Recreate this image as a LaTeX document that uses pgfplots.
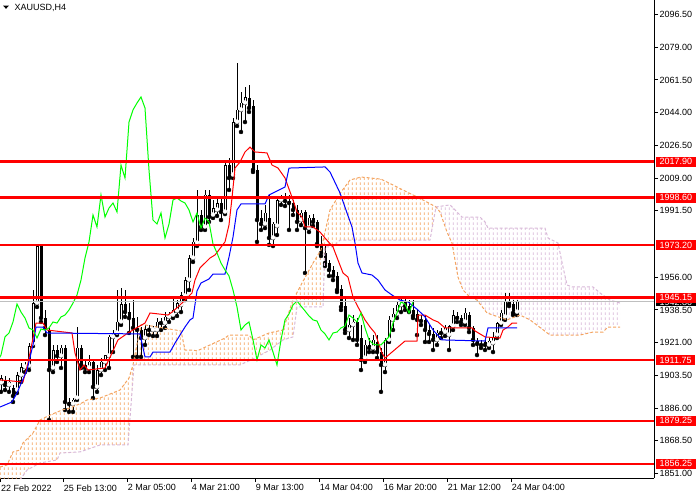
\documentclass[border=0pt]{standalone}
\usepackage{fontspec}
\setmainfont{Liberation Sans}
\usepackage{pgfplots}
\pgfplotsset{compat=1.18}
\usepackage{pgfplotstable}
\usepgfplotslibrary{fillbetween}
\usetikzlibrary{patterns}
\definecolor{sandybrown}{HTML}{F4A460}
\definecolor{mtthistle}{HTML}{D8B8D8}
\definecolor{mtlime}{HTML}{00FF00}
\pgfdeclarepatternformonly{vdash}{\pgfqpoint{0bp}{0bp}}{\pgfqpoint{4bp}{5bp}}{\pgfqpoint{4bp}{5bp}}{%
  \pgfsetlinewidth{1.1bp}%
  \pgfpathmoveto{\pgfqpoint{1.5bp}{0bp}}%
  \pgfpathlineto{\pgfqpoint{1.5bp}{3bp}}%
  \pgfusepath{stroke}}

\pgfplotstableread{
i o h l c
0 1899.5 1903.7 1894.7 1902.1
1 1901.1 1903.2 1895.7 1898.4
2 1898.4 1902.1 1894.7 1900.0
3 1896.8 1898.4 1889.3 1892.5
4 1895.7 1905.3 1894.1 1903.7
5 1903.7 1910.2 1900.0 1908.0
6 1908.0 1910.7 1905.3 1909.1
7 1908.6 1920.8 1906.4 1919.2
8 1920.3 1949.2 1919.2 1942.2
9 1942.2 1973.8 1940.1 1972.7
10 1972.7 1973.8 1932.1 1934.2
11 1934.2 1938.5 1925.1 1928.9
12 1927.8 1928.9 1879.7 1906.4
13 1907.5 1919.8 1905.3 1917.1
14 1917.1 1919.8 1910.7 1913.9
15 1913.9 1919.8 1907.5 1918.2
16 1918.2 1919.8 1885.0 1889.3
17 1889.3 1891.4 1884.0 1888.2
18 1888.2 1891.4 1884.0 1890.4
19 1891.4 1929.4 1890.4 1918.2
20 1918.2 1919.8 1907.5 1909.1
21 1909.1 1911.8 1905.3 1907.5
22 1907.5 1914.4 1905.3 1910.7
23 1910.7 1911.8 1891.4 1897.3
24 1897.3 1909.1 1894.7 1906.4
25 1906.4 1912.8 1903.7 1910.7
26 1910.7 1914.4 1906.4 1914.4
27 1913.9 1925.1 1907.5 1924.1
28 1924.1 1927.8 1916.0 1926.2
29 1926.2 1949.2 1925.1 1932.1
30 1932.1 1950.3 1930.5 1941.7
31 1941.7 1949.2 1934.8 1937.4
32 1937.4 1942.2 1926.2 1934.2
33 1934.2 1943.8 1913.4 1928.9
34 1928.9 1934.8 1913.4 1927.8
35 1927.8 1929.4 1913.4 1923.5
36 1923.5 1930.5 1919.8 1928.3
37 1928.3 1930.5 1925.1 1927.8
38 1927.8 1929.9 1924.6 1928.9
39 1927.8 1934.2 1924.6 1932.1
40 1932.1 1934.2 1927.8 1931.5
41 1931.5 1937.4 1928.9 1934.8
42 1934.8 1937.4 1932.1 1935.8
43 1935.8 1944.9 1934.2 1938.5
44 1938.0 1943.8 1935.3 1942.2
45 1941.2 1948.1 1937.4 1946.5
46 1946.0 1956.1 1943.8 1954.5
47 1954.5 1967.9 1949.2 1966.3
48 1966.3 1977.0 1964.2 1974.9
49 1974.3 2002.7 1972.7 1989.3
50 1989.3 1992.0 1981.3 1982.9
51 1982.9 2002.7 1981.3 2000.0
52 2000.0 2002.7 1985.6 1988.2
53 1989.3 1997.3 1987.7 1993.0
54 1992.0 1998.9 1988.8 1995.7
55 1995.7 1998.4 1986.6 1990.9
56 1990.9 2018.7 1989.8 2016.0
57 2016.0 2019.8 2002.7 2009.1
58 2010.7 2041.2 2009.1 2039.0
59 2039.0 2070.6 2036.9 2045.5
60 2045.5 2055.1 2033.7 2049.2
61 2049.2 2057.8 2039.0 2052.4
62 2051.9 2058.8 2044.4 2046.5
63 2047.6 2050.8 2012.3 2013.4
64 2013.4 2016.0 1974.9 1986.6
65 1987.7 1992.0 1981.3 1984.5
66 1984.5 1994.7 1982.3 1990.4
67 1987.7 2000.0 1973.3 1977.0
68 1977.0 1985.6 1972.7 1984.5
69 1983.4 1998.9 1978.6 1997.3
70 1997.3 2000.0 1994.7 1998.4
71 1997.3 2001.1 1994.1 1996.8
72 1996.8 2000.0 1981.3 1995.7
73 1995.7 1997.3 1989.3 1992.0
74 1992.0 1994.7 1981.3 1985.6
75 1986.6 1992.0 1983.9 1990.4
76 1990.9 1992.0 1958.3 1982.3
77 1982.3 1989.3 1980.2 1987.7
78 1987.7 1989.8 1983.4 1985.6
79 1985.6 1986.6 1972.7 1973.8
80 1973.8 1978.1 1967.4 1969.0
81 1969.0 1973.3 1962.0 1963.6
82 1963.6 1965.2 1956.7 1959.9
83 1959.9 1962.0 1954.5 1956.7
84 1956.7 1958.8 1948.1 1949.2
85 1949.7 1951.9 1938.5 1940.1
86 1940.6 1944.9 1926.2 1927.8
87 1927.8 1934.2 1923.5 1930.5
88 1930.5 1935.8 1922.5 1932.1
89 1932.1 1934.2 1919.8 1922.5
90 1923.5 1930.5 1906.4 1911.8
91 1912.8 1922.5 1910.7 1919.8
92 1919.8 1923.5 1916.0 1918.2
93 1918.2 1925.1 1916.0 1922.5
94 1921.4 1925.1 1912.8 1916.0
95 1916.0 1918.2 1894.7 1909.1
96 1909.1 1923.5 1905.3 1922.5
97 1922.5 1935.3 1921.4 1933.2
98 1933.2 1939.6 1927.8 1936.4
99 1936.4 1942.8 1934.2 1941.2
100 1941.2 1946.0 1937.4 1943.3
101 1943.3 1945.4 1938.5 1940.6
102 1940.6 1943.8 1937.4 1938.0
103 1938.5 1943.8 1934.2 1935.3
104 1936.4 1938.5 1925.1 1933.2
105 1933.2 1935.8 1930.5 1932.6
106 1933.2 1935.3 1921.4 1927.8
107 1927.8 1930.5 1921.4 1925.7
108 1925.7 1928.9 1917.1 1922.5
109 1922.5 1927.8 1919.8 1926.2
110 1926.2 1928.9 1923.5 1926.7
111 1926.7 1930.5 1924.6 1928.9
112 1925.1 1930.5 1917.1 1929.9
113 1929.9 1938.5 1927.8 1935.8
114 1935.3 1937.4 1932.1 1934.2
115 1934.2 1935.8 1930.5 1932.1
116 1932.1 1939.6 1930.5 1936.9
117 1935.8 1937.4 1926.7 1928.9
118 1928.9 1929.9 1919.8 1922.5
119 1922.0 1923.5 1914.4 1920.3
120 1920.3 1922.5 1918.2 1919.8
121 1921.4 1923.5 1917.1 1919.8
122 1919.8 1923.5 1918.2 1922.0
123 1920.8 1926.7 1916.0 1924.1
124 1925.1 1932.1 1923.5 1931.5
125 1931.5 1938.5 1930.5 1936.9
126 1934.8 1947.6 1933.2 1942.8
127 1942.8 1947.6 1940.6 1941.7
128 1941.7 1943.8 1935.8 1936.9
129 1937.4 1943.8 1935.8 1942.8
}\candles

\begin{document}
\begin{tikzpicture}
\begin{axis}[
  at={(0,0)}, anchor=north west,
  scale only axis, width=654bp, height=478bp,
  xmin=-0.25, xmax=163.25, ymin=1848.65, ymax=2104.27,
  axis x line*=bottom, axis y line*=right,
  axis line style={black, line width=1bp},
  tick align=outside, major tick length=4bp,
  tick style={black, line width=1bp},
  ytick={2096.5,2079,2061.5,2044,2026.5,2009,1991.5,1956,1938.5,1921,1903.5,1886,1868.5,1851},
  yticklabel={\pgfmathprintnumber[fixed,fixed zerofill,precision=2,1000 sep={},assume math mode=true]{\tick}},
  yticklabel style={font=\fontsize{9bp}{10bp}\selectfont, anchor=west, inner sep=0pt, xshift=1.5bp},
  xtick={-0.1,15.6,31.6,47.6,63.6,79.6,95.6,111.6,127.6},
  xticklabels={22 Feb 2022, 25 Feb 13:00, 2 Mar 05:00, 4 Mar 21:00, 9 Mar 13:00, 14 Mar 04:00, 16 Mar 20:00, 21 Mar 12:00, 24 Mar 04:00},
  xticklabel style={font=\fontsize{9bp}{10bp}\selectfont, anchor=north west, inner sep=0pt, xshift=0.3bp, yshift=-2.5bp},
  clip mode=individual,
]
% candles: wicks
\addplot[black, only marks, mark=none, forget plot,
  error bars/.cd, y dir=plus, y explicit, error mark=none,
  error bar style={draw=black, line width=1bp, solid}]
  table[x=i, y=l, y error expr=\thisrow{h}-\thisrow{l}] {\candles};
% bodies
\addplot[black, only marks, mark=none, forget plot,
  error bars/.cd, y dir=plus, y explicit, error mark=none,
  error bar style={draw=black, line width=3bp, solid}]
  table[x=i, y expr={min(\thisrow{o},\thisrow{c})}, y error expr={abs(\thisrow{c}-\thisrow{o})}] {\candles};
% bullish interiors
\addplot[white, only marks, mark=none, forget plot,
  error bars/.cd, y dir=plus, y explicit, error mark=none,
  error bar style={draw=white, line width=1bp, solid}]
  table[x=i, y expr={\thisrow{c}>\thisrow{o}+0.6 ? \thisrow{o}+0.27 : nan}, y error expr={\thisrow{c}-\thisrow{o}-0.54}] {\candles};

% Senkou span A and B
\addplot[name path=spanA, sandybrown, line width=1bp, dash pattern=on 3bp off 2bp, forget plot] coordinates {
(-0.25,1854.5) (1.5,1855.6) (3,1862.6) (4.75,1863.6) (5.5,1867.4) (8,1872.7) (9.75,1879.7) (12.25,1882.3) (15.25,1885.0) (17.25,1886.1) (20.25,1888.8) (21.5,1890.4) (24.75,1891.4) (29.75,1895.7) (32,1902.1) (33,1909.1) (34,1920.3) (35,1930.5) (36,1930.5) (45,1927.3) (46,1917.1) (48,1917.1) (49,1916.6) (56,1923.5) (57,1925.1) (62,1925.1) (63,1922.5) (67,1926.2) (70.5,1927.8) (73,1943.8) (75,1951.9) (78,1963.6) (80,1970.6) (82.25,1992.0) (85,2001.6) (87.25,2008.0) (90,2009.6) (95,2008.5) (100,2003.2) (105,1997.9) (108.75,1993.6) (109.75,1990.9) (111.5,1980.2) (112.75,1974.3) (114.25,1956.1) (115.5,1949.2) (117.25,1945.4) (119,1943.8) (121.5,1936.9) (126.5,1933.2) (129.75,1935.8) (132.25,1933.2) (137.25,1925.1) (144.75,1925.1) (148,1926.7) (150.5,1926.7) (151.75,1929.4) (154.75,1929.4)};
\addplot[name path=spanB, mtthistle, line width=1bp, dash pattern=on 3bp off 2bp, forget plot] coordinates {
(-0.25,1839.6) (4.75,1847.6) (6.5,1852.9) (9.75,1856.7) (14,1858.3) (14.75,1862.0) (19.75,1862.6) (24.75,1866.3) (31.75,1866.3) (33.25,1909.1) (59.75,1909.1) (63.5,1912.8) (67.25,1917.1) (70.5,1922.5) (73,1924.1) (74,1940.1) (80.5,1940.1) (81,1972.2) (83,1972.2) (84.75,1975.9) (107.25,1975.9) (108.75,1993.6) (112.25,1994.7) (113.5,1992.0) (115.25,1988.2) (119.75,1988.2) (121,1985.6) (121.75,1982.3) (136,1982.3) (136.75,1977.0) (139.25,1974.3) (140.5,1961.5) (141.5,1951.9) (142.75,1950.8) (148,1950.8) (149.75,1947.6) (152.25,1943.8) (154.75,1942.2)};
\addplot[pattern=vdash, pattern color=sandybrown, draw=none, forget plot] fill between[of=spanA and spanB, soft clip={domain=-1:108.75}];
\addplot[pattern=vdash, pattern color=mtthistle, draw=none, forget plot] fill between[of=spanA and spanB, soft clip={domain=108.75:160}];

% Tenkan-sen
\addplot[red, line width=1bp, forget plot] coordinates {
(-0.25,1901.1) (5.5,1900.0) (6.75,1910.2) (7.75,1920.8) (8.75,1931.5) (10.5,1931.5) (11.5,1927.8) (17.75,1926.2) (18.5,1915.5) (19.75,1906.4) (20.75,1909.1) (21.75,1906.4) (26,1907.5) (27.75,1915.5) (29.25,1922.5) (31.75,1926.2) (34.25,1929.4) (36,1931.5) (37.25,1936.9) (41.75,1935.8) (42.75,1937.4) (44.25,1940.1) (46,1943.8) (47.75,1947.6) (48.5,1954.5) (49.75,1961.0) (52.25,1966.3) (53.5,1967.9) (56,1974.9) (57,1984.0) (57.75,1998.4) (58.5,2014.4) (59.75,2017.6) (61,2023.0) (62.25,2025.6) (63.5,2023.0) (66.5,2022.5) (67.75,2016.0) (69.25,2014.4) (71,2009.1) (73,1997.3) (74,1990.9) (75.25,1988.2) (76,1982.9) (78,1982.9) (79.75,1980.2) (81,1977.0) (83,1972.2) (84.25,1965.2) (85.5,1958.3) (86.75,1956.1) (88,1945.4) (89.25,1940.1) (91,1933.2) (92.25,1929.4) (93.5,1926.2) (95.25,1915.5) (96,1912.8) (101,1921.9) (104,1921.9) (104.25,1935.8) (106,1935.8) (108,1933.2) (109.25,1932.1) (111,1928.9) (117.75,1928.9) (118.5,1927.3) (121,1924.1) (124.75,1923.5) (125.5,1927.8) (126.75,1929.4) (127.75,1931.5) (129,1931.5)};
% Kijun-sen
\addplot[blue, line width=1bp, forget plot] coordinates {
(-0.25,1886.6) (2.75,1889.3) (4,1894.1) (6.5,1906.4) (8,1919.8) (8.75,1929.4) (10.5,1929.4) (11.5,1926.2) (34.75,1925.7) (36,1913.4) (37.25,1913.4) (38,1916.0) (42.25,1916.0) (43.5,1920.8) (44.75,1925.1) (46,1929.4) (47.25,1933.2) (48,1934.2) (49,1948.7) (50,1952.9) (52,1955.1) (53,1957.7) (56,1957.7) (57,1966.8) (58,1977.5) (59,1992.0) (60,1995.2) (66,1995.2) (67,2000.0) (71,2004.3) (72,2014.4) (81,2015.0) (82.25,2012.3) (84.75,2001.1) (86.5,1990.4) (87.75,1982.9) (88.5,1974.3) (89.25,1963.6) (90.25,1958.3) (92.75,1957.2) (94.25,1954.5) (96,1949.2) (97.75,1946.5) (99.75,1943.8) (101.75,1942.8) (104.25,1938.5) (106,1934.8) (108,1927.8) (110.25,1922.5) (121,1921.9) (121.75,1928.9) (129,1928.9)};
% Chikou span: closes shifted back 26 bars
\addplot[mtlime, line width=1bp, forget plot] table[x expr=\thisrow{i}-26, y=c] {\candles};

% bid line
\addplot[black!25, line width=1bp, forget plot] coordinates {(-0.25,1942.8) (163.25,1942.8)};
% horizontal levels
\addplot[red, line width=2.5bp, forget plot] coordinates {(-0.25,2017.90) (163.25,2017.90)};
\addplot[red, line width=2.5bp, forget plot] coordinates {(-0.25,1998.60) (163.25,1998.60)};
\addplot[red, line width=2.5bp, forget plot] coordinates {(-0.25,1973.20) (163.25,1973.20)};
\addplot[red, line width=2.5bp, forget plot] coordinates {(-0.25,1945.15) (163.25,1945.15)};
\addplot[red, line width=2.5bp, forget plot] coordinates {(-0.25,1911.75) (163.25,1911.75)};
\addplot[red, line width=2.5bp, forget plot] coordinates {(-0.25,1879.25) (163.25,1879.25)};
\addplot[red, line width=2.5bp, forget plot] coordinates {(-0.25,1856.25) (163.25,1856.25)};

\tikzset{lvl/.style={anchor=west, text=white, inner xsep=3.5bp, inner ysep=0pt, minimum height=10bp, font=\fontsize{9bp}{10bp}\selectfont, xshift=2bp}}
\node[lvl, fill=black, minimum height=9bp] at (axis cs:163.25,1942.8) {1942.80};
\node[lvl, fill=red] at (axis cs:163.25,2017.90) {2017.90};
\node[lvl, fill=red] at (axis cs:163.25,1998.60) {1998.60};
\node[lvl, fill=red] at (axis cs:163.25,1973.20) {1973.20};
\node[lvl, fill=red] at (axis cs:163.25,1945.15) {1945.15};
\node[lvl, fill=red] at (axis cs:163.25,1911.75) {1911.75};
\node[lvl, fill=red] at (axis cs:163.25,1879.25) {1879.25};
\node[lvl, fill=red] at (axis cs:163.25,1856.25) {1856.25};
\end{axis}
\fill (3bp,-5.5bp) -- (9bp,-5.5bp) -- (6bp,-8.8bp) -- cycle;
\node[anchor=west, inner sep=0pt, font=\fontsize{9bp}{10bp}\selectfont] at (14.5bp,-7.5bp) {XAUUSD,H4};
\pgfresetboundingbox
\useasboundingbox (0,0) rectangle (700bp,-500bp);
\end{tikzpicture}
\end{document}
